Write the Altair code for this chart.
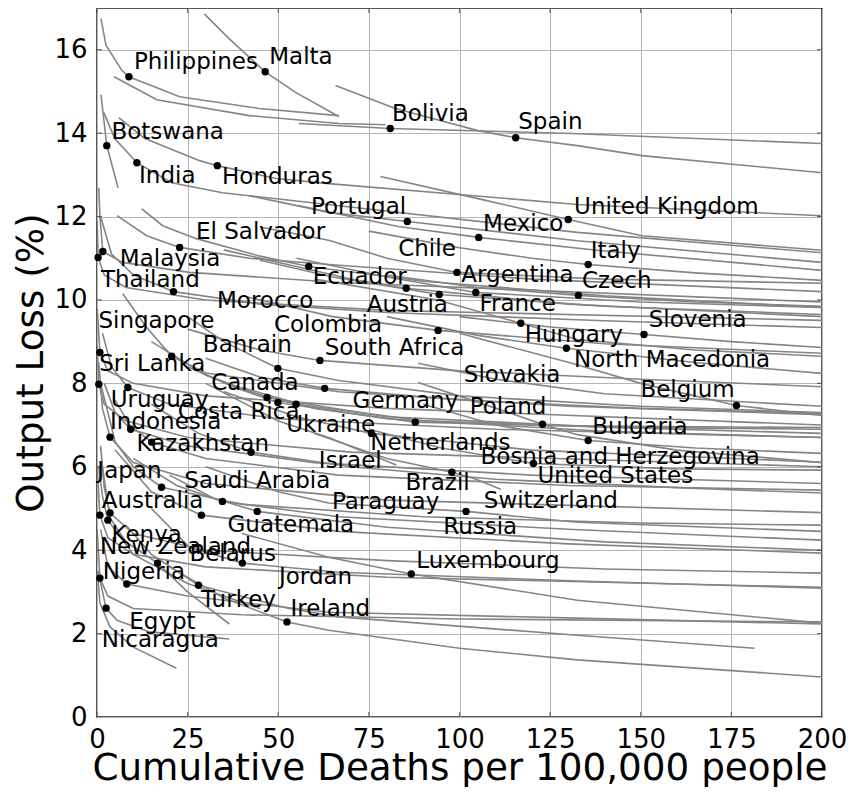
import altair as alt
import pandas as pd

# ---- data ----
point_x = [8.8, 46.4, 80.9, 115.5, 2.7, 11.0, 33.2, 85.6, 130.0, 105.3, 22.8, 1.6, 0.3, 58.4,
           99.3, 135.5, 21.1, 85.3, 94.4, 104.5, 132.8, 116.9, 94.1, 150.9, 129.5, 0.8, 20.6,
           61.5, 49.9, 0.5, 8.5, 62.8, 46.9, 49.9, 54.9, 176.4, 87.8, 122.9, 9.3, 75.7, 3.6,
           15.1, 135.5, 42.5, 120.4, 97.9, 17.8, 34.6, 44.2, 28.8, 101.8, 3.6, 0.8, 3.0, 16.7,
           40.1, 86.7, 0.8, 8.2, 28.0, 2.5, 52.4]
point_y = [15.35, 15.47, 14.11, 13.89, 13.70, 13.29, 13.22, 11.88, 11.93, 11.50, 11.26, 11.16,
           11.02, 10.80, 10.66, 10.85, 10.20, 10.28, 10.13, 10.18, 10.11, 9.44, 9.27, 9.17, 8.84,
           8.74, 8.65, 8.55, 8.36, 7.98, 7.90, 7.88, 7.66, 7.54, 7.50, 7.47, 7.07, 7.02, 6.90,
           6.80, 6.71, 6.59, 6.63, 6.35, 6.08, 5.87, 5.51, 5.17, 4.93, 4.84, 4.93, 4.89, 4.84,
           4.72, 3.69, 3.69, 3.43, 3.33, 3.19, 3.16, 2.61, 2.28]

label_text = ["Philippines", "Malta", "Bolivia", "Spain", "Botswana", "India", "Honduras",
              "Portugal", "Mexico", "United Kingdom", "El Salvador", "Malaysia", "Chile",
              "Ecuador", "Argentina", "Italy", "Thailand", "Czech", "Morocco", "Austria",
              "France", "Singapore", "Colombia", "Hungary", "Slovenia", "South Africa",
              "Bahrain", "North Macedonia", "Sri Lanka", "Slovakia", "Canada", "Belgium",
              "Germany", "Uruguay", "Poland", "Costa Rica", "Ukraine", "Indonesia", "Bulgaria",
              "Netherlands", "Kazakhstan", "Bosnia and Herzegovina", "Israel", "United States",
              "Japan", "Brazil", "Saudi Arabia", "Switzerland", "Paraguay", "Australia",
              "Guatemala", "Russia", "Kenya", "New Zealand", "Belarus", "Luxembourg", "Jordan",
              "Nigeria", "Turkey", "Ireland", "Egypt", "Nicaragua"]
label_x = [10.2, 47.5, 81.4, 116.2, 4.0, 11.6, 34.5, 59.0, 106.5, 131.6, 27.3, 6.3, 83.1,
           59.5, 100.5, 136.2, 1.1, 133.8, 33.1, 74.4, 105.5, 0.4, 48.8, 118.0, 152.2, 62.8,
           29.2, 131.6, 0.6, 101.2, 31.5, 149.9, 70.5, 3.8, 102.8, 22.3, 52.2, 3.6, 136.6,
           75.4, 10.9, 105.8, 61.2, 121.5, 0.1, 85.1, 24.1, 106.7, 64.8, 1.3, 36.0, 95.5,
           4.0, 0.8, 25.5, 88.1, 50.2, 1.6, 28.7, 53.4, 8.9, 1.3]
label_y = [15.70, 15.82, 14.46, 14.26, 14.03, 12.98, 12.94, 12.22, 11.83, 12.22, 11.62, 10.98,
           11.22, 10.55, 10.61, 11.18, 10.48, 10.45, 9.97, 9.87, 9.91, 9.49, 9.39, 9.15, 9.53,
           8.84, 8.93, 8.55, 8.47, 8.19, 8.00, 7.83, 7.58, 7.61, 7.43, 7.31, 7.00, 7.07, 6.95,
           6.57, 6.54, 6.23, 6.13, 5.77, 5.89, 5.60, 5.67, 5.17, 5.16, 5.17, 4.60, 4.56, 4.36,
           4.08, 3.92, 3.73, 3.36, 3.48, 2.80, 2.60, 2.28, 1.84]

curves = [
    ("Philippines", [1.1, 2.5, 6.9, 8.8, 22.8, 44.7, 66.7], [16.74, 16.1, 15.5, 15.35, 14.87, 14.59, 14.42]),
    ("c2", [4.7, 16.5, 42.0, 66.7, 79.6], [15.35, 14.8, 14.42, 14.23, 14.2]),
    ("Malta", [29.6, 36.5, 46.4, 54.9, 66.7], [16.86, 16.26, 15.47, 14.97, 14.4]),
    ("Spain", [65.8, 82.3, 105.1, 115.5, 132.5, 150.3, 200], [15.14, 14.59, 14.06, 13.89, 13.7, 13.46, 13.05]),
    ("Bolivia", [55.7, 80.9, 131.1, 200], [14.23, 14.11, 13.99, 13.75]),
    ("Botswana", [1.1, 2.7, 5.8], [14.92, 13.7, 12.69]),
    ("India", [1.9, 4.9, 11.0, 20.6, 34.6, 66.7, 132.5, 200], [14.49, 13.87, 13.29, 12.81, 12.57, 12.26, 11.62, 11.13]),
    ("Honduras", [6.0, 13.2, 28.3, 33.2, 49.4, 63.9, 132.5, 200], [14.37, 13.87, 13.34, 13.22, 12.91, 12.79, 12.29, 12.02]),
    ("UK", [78.2, 105.1, 130.0, 150.3, 200], [12.96, 12.43, 11.93, 11.54, 11.19]),
    ("Portugal", [42, 63.9, 85.6, 132.5, 200], [12.5, 12.1, 11.88, 11.42, 10.9]),
    ("Mexico", [55.7, 83.1, 105.3, 137.9, 200], [12.26, 11.76, 11.5, 11.19, 10.71]),
    ("El Salvador", [5.5, 13.7, 22.8, 42, 66.7, 120, 200], [12.02, 11.54, 11.26, 11.0, 10.83, 10.5, 10.2]),
    ("Ecuador", [12.3, 18.1, 27.4, 45, 58.4, 90, 140, 200], [12.19, 11.78, 11.47, 11.05, 10.8, 10.45, 10.1, 9.82]),
    ("Malaysia", [0.5, 0.8, 1.6, 7.1, 25.5, 66.7, 200], [12.69, 12.02, 11.16, 10.9, 10.66, 10.42, 9.95]),
    ("Malaysia2", [0.05, 0.3, 2, 8, 30, 80, 200], [11.9, 11.02, 10.6, 10.3, 10.0, 9.75, 9.51]),
    ("Thailand", [1.0, 4, 10, 21.1, 45, 80, 140, 200], [12.0, 11.1, 10.6, 10.2, 9.9, 9.7, 9.5, 9.34]),
    ("Argentina", [45, 63.9, 80, 99.3, 140, 200], [11.75, 11.43, 11.0, 10.66, 10.5, 10.4]),
    ("Italy", [75, 100, 120, 135.5, 165, 200], [11.65, 11.25, 11.0, 10.85, 10.65, 10.47]),
    ("Austria1", [35, 55, 70, 85.3, 130, 200], [11.2, 10.8, 10.5, 10.28, 9.9, 9.6]),
    ("Austria", [45, 65, 94.4, 140, 200], [10.95, 10.55, 10.13, 9.85, 9.65]),
    ("France", [55, 80, 104.5, 150, 200], [11.0, 10.55, 10.18, 9.95, 9.82]),
    ("Czech", [80, 105, 132.8, 165, 200], [10.6, 10.3, 10.11, 9.95, 9.85]),
    ("Hungary", [60, 94, 116.9, 132.5, 165, 200], [10.5, 10.0, 9.44, 9.05, 8.8, 8.65]),
    ("Colombia", [40, 65, 94.1, 140, 200], [10.1, 9.6, 9.27, 8.95, 8.72]),
    ("Slovenia", [100, 125, 150.9, 175, 200], [9.6, 9.35, 9.17, 9.0, 8.86]),
    ("North Macedonia", [80, 105, 129.5, 165, 200], [9.6, 9.15, 8.84, 8.5, 8.24]),
    ("Singapore", [0.05, 0.8, 3, 10, 30, 80, 200], [9.8, 8.74, 8.3, 8.0, 7.7, 7.4, 7.0]),
    ("Sri Lanka", [7.1, 13.7, 20.6, 30, 66.7, 130, 200], [10.15, 9.34, 8.65, 8.25, 7.8, 7.45, 7.25]),
    ("South Africa", [25, 45, 61.5, 100, 150, 200], [9.3, 8.8, 8.55, 8.3, 8.1, 7.92]),
    ("Bahrain", [25, 35, 49.9, 66.7, 100, 150, 200], [9.6, 9.0, 8.36, 8.07, 7.7, 7.45, 7.3]),
    ("Uruguay0", [0.05, 0.5, 2, 8, 25, 70, 200], [8.9, 7.98, 7.5, 7.1, 6.7, 6.35, 6.0]),
    ("Uruguay", [1.5, 4, 8.5, 20, 50, 110, 200], [9.2, 8.4, 7.9, 7.5, 7.15, 6.9, 6.7]),
    ("Canada", [30, 45, 62.8, 100, 150, 200], [8.6, 8.15, 7.88, 7.6, 7.4, 7.28]),
    ("CR1", [15, 30, 46.9, 80, 140, 200], [9.0, 8.2, 7.66, 7.2, 6.95, 6.8]),
    ("CR2", [25, 38, 49.9, 80, 140, 200], [8.4, 7.9, 7.54, 7.15, 6.85, 6.7]),
    ("Costa Rica", [30, 42, 54.9, 90, 140, 200], [8.2, 7.8, 7.5, 7.1, 6.95, 6.9]),
    ("Belgium", [100, 131, 150, 176.4, 200], [9.2, 8.48, 8.0, 7.47, 7.23]),
    ("Slovakia", [88.6, 110, 140, 200], [8.48, 8.1, 7.75, 7.45]),
    ("Germany", [40, 60, 87.8, 130, 200], [7.9, 7.4, 7.07, 6.98, 6.94]),
    ("Poland", [88.6, 105, 122.9, 132.5, 160, 200], [8.02, 7.55, 7.02, 6.77, 6.4, 6.1]),
    ("Indonesia", [2, 5, 9.3, 25, 60, 120, 200], [8.0, 7.3, 6.9, 6.5, 6.1, 5.8, 5.6]),
    ("Ukraine", [35, 55, 75.7, 120, 200], [7.8, 7.2, 6.8, 6.4, 6.11]),
    ("Kaz0", [0.5, 1.5, 3.6, 10, 30, 80, 200], [8.5, 7.4, 6.71, 6.1, 5.6, 5.2, 4.9]),
    ("Kazakhstan", [5, 9, 15.1, 30, 66.7, 130, 200], [7.6, 7.0, 6.59, 6.2, 5.8, 5.55, 5.44]),
    ("Bulgaria", [90, 110, 135.5, 165, 200], [7.5, 7.0, 6.63, 6.45, 6.32]),
    ("Kaz2", [15, 28, 42.5, 70, 110, 160, 200], [7.5, 6.8, 6.35, 6.0, 5.7, 5.5, 5.37]),
    ("Bosnia", [75, 95, 120.4, 160, 200], [6.9, 6.45, 6.08, 5.95, 5.92]),
    ("Brazil", [60, 80, 97.9, 104, 111.4], [6.8, 6.2, 5.87, 5.72, 5.46]),
    ("Israel", [30, 50, 63.9, 82.6], [8.0, 7.1, 6.7, 6.04]),
    ("Japan", [1, 5, 10, 17.8, 40, 90, 150, 200], [8.0, 6.6, 6.0, 5.51, 5.1, 4.8, 4.65, 4.6]),
    ("Saudi Arabia", [10, 22, 34.6, 66.7, 130, 200], [6.2, 5.55, 5.17, 4.8, 4.5, 4.24]),
    ("Aus2", [20, 32, 44.2, 80, 140, 200], [5.8, 5.25, 4.93, 4.55, 4.2, 4.0]),
    ("Australia", [5, 15, 28.8, 66.7, 130, 200], [6.4, 5.4, 4.84, 4.45, 4.15, 3.93]),
    ("Switzerland", [30, 50, 63.9, 101.8, 132.5, 200], [6.0, 5.4, 5.13, 4.93, 4.67, 4.45]),
    ("Kenya0", [0.05, 0.8, 3, 10, 30, 80, 200], [6.0, 4.84, 4.3, 3.9, 3.6, 3.35, 3.11]),
    ("Kenya", [1, 2, 3.6, 10, 30, 80, 140, 200], [6.5, 5.5, 4.89, 4.4, 4.0, 3.75, 3.55, 3.45]),
    ("Kenya2", [0.5, 1.5, 3.0, 10, 25, 45], [6.0, 5.3, 4.72, 3.9, 3.2, 2.6]),
    ("New Zealand", [1.5, 3.6, 8, 16.7, 25, 36.5], [6.0, 4.77, 4.2, 3.69, 3.0, 2.23]),
    ("Belarus", [15, 25.5, 40.1, 66.7, 132.5, 200], [5.0, 4.07, 3.69, 3.47, 3.26, 3.09]),
    ("Luxembourg", [40, 63.9, 86.7, 132.5, 200], [4.4, 3.83, 3.43, 2.8, 2.25]),
    ("Nigeria", [0.05, 0.8, 3, 10, 40, 100, 200], [4.5, 3.33, 2.9, 2.6, 2.45, 2.35, 2.28]),
    ("Nigeria2", [1, 3, 8.2, 25, 63.9, 132.5, 200], [4.5, 3.6, 3.19, 2.9, 2.51, 2.37, 2.23]),
    ("Turkey", [8, 15, 28, 53, 66.7, 132.5, 181.4], [4.6, 3.9, 3.16, 2.6, 2.4, 1.96, 1.65]),
    ("Egypt", [0.3, 2.5, 5.5, 14.5, 36.5], [3.5, 2.61, 2.32, 2.04, 1.87]),
    ("Nicaragua", [0.1, 0.8, 3.6, 9.9, 21.9], [3.5, 2.73, 2.16, 1.68, 1.17]),
    ("Ireland", [20, 35, 52.4, 63.9, 100, 132.5, 200], [3.6, 2.85, 2.28, 2.08, 1.65, 1.37, 0.96]),
]

x_ticks = [0, 25, 50, 75, 100, 125, 150, 175, 200]
y_ticks = [0, 2, 4, 6, 8, 10, 12, 14, 16]
x_edges = [0, 200]
y_edges = [0, 17]

# ---- tables ----
rows = []
for name, xs, ys in curves:
    for i, (xv, yv) in enumerate(zip(xs, ys)):
        rows.append({"curve": name, "i": i, "x": xv, "y": yv})
curve_df = pd.DataFrame(rows)
point_df = pd.DataFrame({"x": point_x, "y": point_y})
label_df = pd.DataFrame({"text": label_text, "x": label_x, "y": label_y})
ytick_df = pd.DataFrame([{"x": e, "y": t} for e in x_edges for t in y_ticks])
xtick_df = pd.DataFrame([{"x": t, "y": e} for e in y_edges for t in x_ticks])

FONT = "DejaVu Sans"
xscale = alt.Scale(domain=[0, 200], nice=False, zero=False)
yscale = alt.Scale(domain=[0, 17], nice=False, zero=False)

xaxis = alt.Axis(values=x_ticks, title="Cumulative Deaths per 100,000 people",
                 labelFontSize=26, titleFontSize=37.3, labelFont=FONT, titleFont=FONT,
                 titleFontWeight="normal", labelColor="black", titleColor="black",
                 ticks=False, domain=False, labelPadding=9,
                 titleBaseline="alphabetic", titleY=62,
                 grid=True, gridColor="#b5b5b5", gridWidth=1, labelFlush=False)
yaxis = alt.Axis(values=y_ticks, title="Output Loss (%)",
                 labelFontSize=26, titleFontSize=37.3, labelFont=FONT, titleFont=FONT,
                 titleFontWeight="normal", labelColor="black", titleColor="black",
                 ticks=False, domain=False, labelPadding=10, titlePadding=3,
                 grid=True, gridColor="#b5b5b5", gridWidth=1, labelFlush=False)

lines = alt.Chart(curve_df).mark_line(color="#858585", strokeWidth=1.6, clip=True).encode(
    x=alt.X("x:Q", scale=xscale, axis=xaxis),
    y=alt.Y("y:Q", scale=yscale, axis=yaxis),
    detail="curve:N",
    order="i:Q",
)

# inward tick marks on all four sides (the half outside the frame is clipped)
yticks_in = alt.Chart(ytick_df).mark_tick(orient="horizontal", size=10, thickness=1.2,
                                          color="#333333", clip=True).encode(
    x=alt.X("x:Q", scale=xscale), y=alt.Y("y:Q", scale=yscale))
xticks_in = alt.Chart(xtick_df).mark_tick(orient="vertical", size=10, thickness=1.2,
                                          color="#333333", clip=True).encode(
    x=alt.X("x:Q", scale=xscale), y=alt.Y("y:Q", scale=yscale))

points = alt.Chart(point_df).mark_circle(color="black", opacity=1, size=55).encode(
    x=alt.X("x:Q", scale=xscale),
    y=alt.Y("y:Q", scale=yscale),
)

labels = alt.Chart(label_df).mark_text(align="left", baseline="middle", font=FONT,
                                       fontSize=23, color="black").encode(
    x=alt.X("x:Q", scale=xscale),
    y=alt.Y("y:Q", scale=yscale),
    text="text:N",
)

chart = alt.layer(lines, yticks_in, xticks_in, points, labels).properties(
    width=725, height=709,
    padding={"left": 89, "top": 0, "right": 24, "bottom": 70},
    autosize=alt.AutoSizeParams(type="none"),
    background="white",
).configure_view(stroke="#222222", strokeWidth=1.5)

chart.save("out.html", embed_options={"renderer": "svg", "actions": False})
